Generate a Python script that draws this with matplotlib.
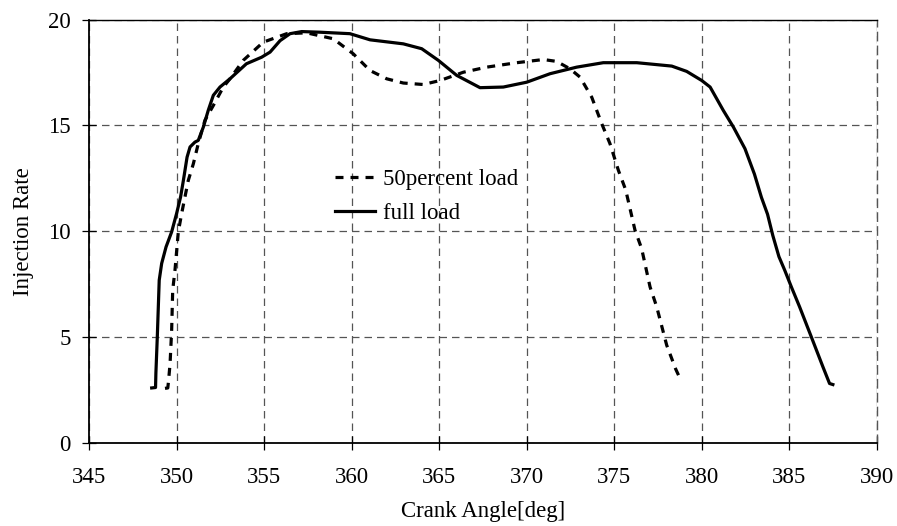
import matplotlib
matplotlib.use("Agg")
import matplotlib.pyplot as plt

full_x = [348.58, 348.8, 348.82, 348.9, 349.01, 349.15, 349.4, 349.72, 350.0, 350.23, 350.39,
          350.6, 350.77, 351.05, 351.24, 351.53, 351.81, 352.1, 352.48, 353.05, 353.99, 354.86,
          355.34, 355.91, 356.48, 357.15, 358.19, 359.9, 361.05, 362.95, 364.0, 364.95, 366.0,
          367.33, 368.66, 370.0, 371.33, 372.85, 374.37, 376.28, 378.28, 379.13, 379.99, 380.47,
          381.22, 381.8, 382.46, 383.0, 383.4, 383.75, 384.05, 384.4, 384.73, 385.11, 385.58,
          386.25, 386.91, 387.29, 387.48]
full_y = [2.6, 2.62, 3.3, 5.0, 7.69, 8.48, 9.26, 9.97, 10.83, 11.62, 12.4,
          13.5, 13.98, 14.21, 14.29, 14.92, 15.71, 16.42, 16.81, 17.2, 17.91, 18.22,
          18.46, 19.0, 19.33, 19.43, 19.4, 19.33, 19.04, 18.85, 18.62, 18.07, 17.36,
          16.78, 16.81, 17.04, 17.44, 17.75, 17.96, 17.96, 17.8, 17.55, 17.12, 16.81,
          15.71, 14.92, 13.9, 12.7, 11.6, 10.8, 9.8, 8.8, 8.16, 7.37, 6.43,
          5.01, 3.6, 2.81, 2.76]

half_x = [349.34, 349.5, 349.55, 349.63, 349.72, 349.78, 349.91, 350.1, 350.29, 350.48, 350.67,
          350.96, 351.24, 351.62, 352.1, 352.67, 353.05, 353.81, 354.95, 356.29, 357.43, 358.95,
          360.09, 361.05, 362.0, 362.95, 364.09, 365.05, 366.38, 367.71, 369.43, 370.95, 371.71,
          372.47, 373.04, 373.71, 374.28, 374.75, 375.23, 375.65, 376.18, 376.56, 377.04, 377.42,
          377.99, 378.5, 378.75]
half_y = [2.58, 2.6, 3.0, 3.76, 5.33, 7.22, 8.16, 9.97, 10.83, 11.62, 12.4,
          13.19, 14.14, 15.24, 15.94, 16.81, 17.2, 18.07, 18.93, 19.33, 19.37, 19.09,
          18.38, 17.59, 17.2, 17.0, 16.93, 17.12, 17.51, 17.75, 17.96, 18.11, 18.02,
          17.67, 17.28, 16.33, 15.08, 14.14, 12.88, 11.95, 10.05, 9.18, 7.37, 6.43,
          4.62, 3.5, 3.05]

x_ticks = [345, 350, 355, 360, 365, 370, 375, 380, 385, 390]
y_ticks = [0, 5, 10, 15, 20]

plt.rcParams['font.family'] = ['Liberation Serif', 'DejaVu Serif']
FS = 16.5

fig = plt.figure(figsize=(8.97, 5.26), dpi=100)
ax = fig.add_axes([89/897, 1 - 443/526, (877 - 89)/897, (443 - 19.5)/526])

ax.plot(half_x, half_y, color='black', lw=2.3, linestyle=(0, (2.5, 2.2)),
        label='50percent load', solid_capstyle='butt', dash_capstyle='butt')
ax.plot(full_x, full_y, color='black', lw=2.3, label='full load')

ax.set_xlim(345, 390)
ax.set_ylim(0, 20)
ax.set_xticks(x_ticks)
ax.set_yticks(y_ticks)
ax.grid(True, color='#555555', linestyle=(0, (6, 4)), linewidth=0.9)
ax.set_axisbelow(True)

for s in ['left', 'bottom']:
    ax.spines[s].set_linewidth(1.3)
    ax.spines[s].set_color('black')
ax.spines['top'].set_linewidth(1.0)
ax.spines['right'].set_linewidth(1.0)
ax.spines['right'].set_color('#555555')
ax.spines['right'].set_linestyle((0, (6, 4)))

ax.tick_params(direction='inout', length=10, width=0.9, labelsize=FS)
ax.tick_params(axis='x', pad=12)
ax.tick_params(axis='y', pad=8)

ax.set_xlabel('Crank Angle[deg]', fontsize=FS, labelpad=10)
ax.set_ylabel('Injection Rate', fontsize=FS, labelpad=10)

leg = ax.legend(loc='upper left', bbox_to_anchor=(0.30, 0.668), frameon=False,
                fontsize=FS, handlelength=1.75, handletextpad=0.35, labelspacing=0.55,
                borderaxespad=0)

fig.savefig('out.png', dpi=100)
